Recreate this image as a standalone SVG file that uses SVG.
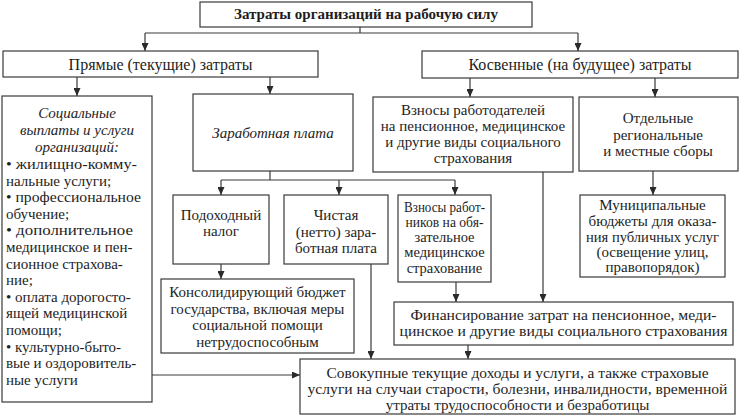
<svg xmlns="http://www.w3.org/2000/svg" width="741" height="417" viewBox="0 0 741 417">
<defs>
<style>
.b{fill:#fff;stroke:#3a3a3a;stroke-width:1.2}
.t{font-family:'Liberation Serif','Times New Roman',serif;font-size:15px;fill:#1e1e1e;text-anchor:middle}
.m{font-size:16px}
.s{font-size:14.5px}
.l{text-anchor:start}
.i{font-style:italic}
.h{font-weight:bold}
.c{fill:none;stroke:#3a3a3a;stroke-width:1.2}
.a{marker-end:url(#ar)}
</style>
<marker id="ar" viewBox="0 0 8 7" refX="8" refY="3.5" markerWidth="8" markerHeight="7" markerUnits="userSpaceOnUse" orient="auto">
<path d="M0,0 L8,3.5 L0,7 z" fill="#2a2a2a"/>
</marker>
</defs>
<rect width="741" height="417" fill="#fff"/>

<g id="connectors">
<path class="c" d="M360,27 V33 M145,33 H578"/>
<path class="c a" d="M145,33 V51"/>
<path class="c a" d="M578,33 V51"/>
<path class="c a" d="M77,77 V96"/>
<path class="c a" d="M270,77 V94"/>
<path class="c a" d="M470,78 V97"/>
<path class="c a" d="M655,78 V97"/>
<path class="c" d="M270,171 V180 M221,180 H455"/>
<path class="c a" d="M221,180 V195"/>
<path class="c a" d="M339,180 V195"/>
<path class="c a" d="M455,180 V195"/>
<path class="c a" d="M221,264 V279"/>
<path class="c a" d="M371,264 V359"/>
<path class="c a" d="M543,172 V302"/>
<path class="c a" d="M456,282 V302"/>
<path class="c a" d="M653,171 V195"/>
<path class="c a" d="M468,345 V359"/>
<path class="c a" d="M152,375 H300"/>
</g>

<g id="n-total">
<rect class="b" x="200" y="2" width="332" height="25"/>
<text class="t h" x="366" y="19">Затраты организаций на рабочую силу</text>
</g>

<g id="n-direct">
<rect class="b" x="3" y="51" width="315" height="26"/>
<text class="t m" x="160.5" y="70">Прямые (текущие) затраты</text>
</g>

<g id="n-indirect">
<rect class="b" x="422" y="51" width="316" height="27"/>
<text class="t m" x="580" y="70">Косвенные (на будущее) затраты</text>
</g>

<g id="n-social">
<rect class="b" x="2" y="96" width="150" height="306"/>
<text class="t i" x="77" y="118">Социальные</text>
<text class="t i" x="77" y="135">выплаты и услуги</text>
<text class="t i" x="77" y="152">организаций:</text>
<text class="t l" x="6" y="169" textLength="131" lengthAdjust="spacingAndGlyphs">• жилищно-комму-</text>
<text class="t l" x="6" y="185.6">нальные услуги;</text>
<text class="t l" x="6" y="202.2" textLength="135" lengthAdjust="spacingAndGlyphs">• профессиональное</text>
<text class="t l" x="6" y="218.8">обучение;</text>
<text class="t l" x="6" y="235.4" textLength="127" lengthAdjust="spacingAndGlyphs">• дополнительное</text>
<text class="t l" x="6" y="252">медицинское и пен-</text>
<text class="t l" x="6" y="268.6">сионное страхова-</text>
<text class="t l" x="6" y="285.2">ние;</text>
<text class="t l" x="6" y="301.8">• оплата дорогосто-</text>
<text class="t l" x="6" y="318.4">ящей медицинской</text>
<text class="t l" x="6" y="335">помощи;</text>
<text class="t l" x="6" y="351.6">• культурно-быто-</text>
<text class="t l" x="6" y="368.2">вые и оздоровитель-</text>
<text class="t l" x="6" y="384.8">ные услуги</text>
</g>

<g id="n-wage">
<rect class="b" x="193" y="94" width="160" height="77"/>
<text class="t i" x="273" y="138">Заработная плата</text>
</g>

<g id="n-employer">
<rect class="b" x="373" y="97" width="200" height="75"/>
<text class="t" x="473" y="115">Взносы работодателей</text>
<text class="t" x="473" y="131">на пенсионное, медицинское</text>
<text class="t" x="473" y="147">и другие виды социального</text>
<text class="t" x="473" y="163">страхования</text>
</g>

<g id="n-regional">
<rect class="b" x="579" y="97" width="159" height="74"/>
<text class="t" x="658" y="123">Отдельные</text>
<text class="t" x="658" y="140">региональные</text>
<text class="t" x="658" y="156">и местные сборы</text>
</g>

<g id="n-incometax">
<rect class="b" x="173" y="195" width="96" height="69"/>
<text class="t" x="221" y="220">Подоходный</text>
<text class="t" x="221" y="236">налог</text>
</g>

<g id="n-net">
<rect class="b" x="284" y="195" width="104" height="69"/>
<text class="t" x="336" y="220">Чистая</text>
<text class="t" x="336" y="237">(нетто) зара-</text>
<text class="t" x="336" y="253">ботная плата</text>
</g>

<g id="n-employee">
<rect class="b" x="398" y="195" width="93" height="87"/>
<text class="t s" x="444.5" y="212" textLength="81" lengthAdjust="spacingAndGlyphs">Взносы работ-</text>
<text class="t s" x="444.5" y="227" textLength="78" lengthAdjust="spacingAndGlyphs">ников на обя-</text>
<text class="t s" x="444.5" y="242">зательное</text>
<text class="t s" x="444.5" y="257">медицинское</text>
<text class="t s" x="444.5" y="273">страхование</text>
</g>

<g id="n-municipal">
<rect class="b" x="580" y="195" width="145" height="82"/>
<text class="t" x="652.5" y="210">Муниципальные</text>
<text class="t" x="652.5" y="226" textLength="128" lengthAdjust="spacingAndGlyphs">бюджеты для оказа-</text>
<text class="t" x="652.5" y="242" textLength="133" lengthAdjust="spacingAndGlyphs">ния публичных услуг</text>
<text class="t" x="652.5" y="257">(освещение улиц,</text>
<text class="t" x="652.5" y="272">правопорядок)</text>
</g>

<g id="n-budget">
<rect class="b" x="161" y="279" width="193" height="74"/>
<text class="t" x="257.5" y="297">Консолидирующий бюджет</text>
<text class="t" x="257.5" y="313.7">государства, включая меры</text>
<text class="t" x="257.5" y="330.4">социальной помощи</text>
<text class="t" x="257.5" y="347">нетрудоспособным</text>
</g>

<g id="n-financing">
<rect class="b" x="394" y="302" width="339" height="43"/>
<text class="t" x="563.5" y="320" textLength="306" lengthAdjust="spacingAndGlyphs">Финансирование затрат на пенсионное, меди-</text>
<text class="t" x="563.5" y="336" textLength="328" lengthAdjust="spacingAndGlyphs">цинское и другие виды социального страхования</text>
</g>

<g id="n-total-income">
<rect class="b" x="300" y="359" width="435" height="55"/>
<text class="t" x="517.5" y="378" textLength="382" lengthAdjust="spacingAndGlyphs">Совокупные текущие доходы и услуги, а также страховые</text>
<text class="t" x="517.5" y="394" textLength="420" lengthAdjust="spacingAndGlyphs">услуги на случаи старости, болезни, инвалидности, временной</text>
<text class="t" x="517.5" y="410">утраты трудоспособности и безработицы</text>
</g>
</svg>
